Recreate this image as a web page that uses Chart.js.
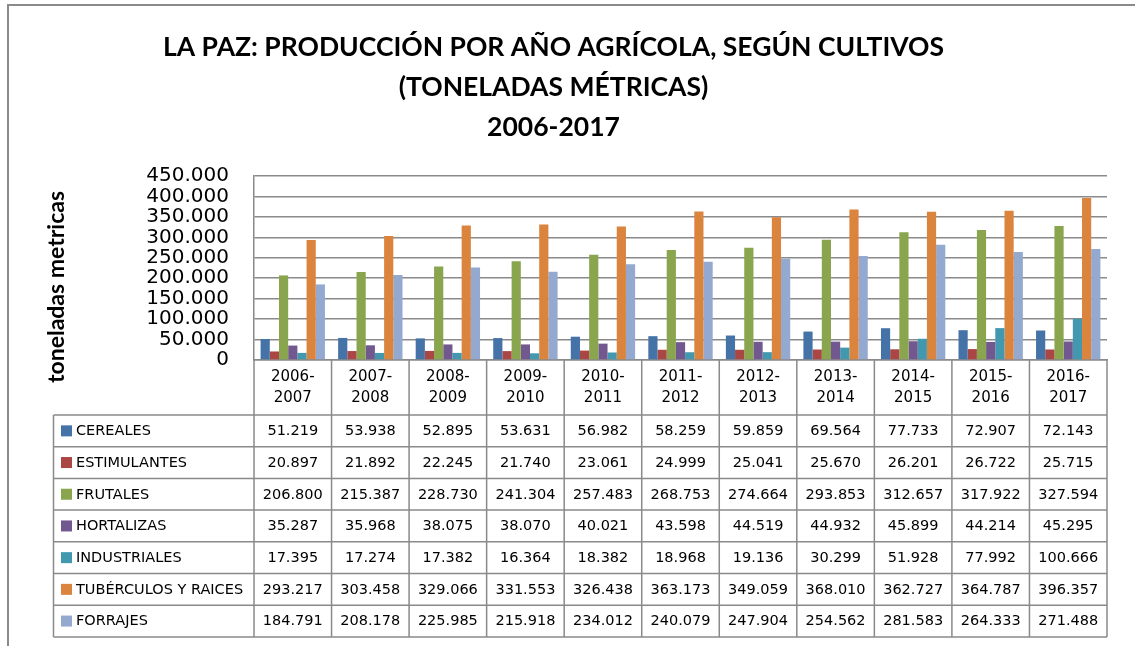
<!DOCTYPE html>
<html>
<head>
<meta charset="utf-8">
<script src="https://cdn.jsdelivr.net/npm/chart.js@4.4.1/dist/chart.umd.min.js"></script>
<style>
  html, body { margin: 0; padding: 0; background: #fff; }
  canvas { display: block; }
</style>
</head>
<body>
<canvas id="cultivosChart" width="1135" height="646"></canvas>
<script>
const years = ['2006-2007', '2007-2008', '2008-2009', '2009-2010', '2010-2011', '2011-2012',
               '2012-2013', '2013-2014', '2014-2015', '2015-2016', '2016-2017'];

const cereales     = [51219, 53938, 52895, 53631, 56982, 58259, 59859, 69564, 77733, 72907, 72143];
const estimulantes = [20897, 21892, 22245, 21740, 23061, 24999, 25041, 25670, 26201, 26722, 25715];
const frutales     = [206800, 215387, 228730, 241304, 257483, 268753, 274664, 293853, 312657, 317922, 327594];
const hortalizas   = [35287, 35968, 38075, 38070, 40021, 43598, 44519, 44932, 45899, 44214, 45295];
const industriales = [17395, 17274, 17382, 16364, 18382, 18968, 19136, 30299, 51928, 77992, 100666];
const tuberculos   = [293217, 303458, 329066, 331553, 326438, 363173, 349059, 368010, 362727, 364787, 396357];
const forrajes     = [184791, 208178, 225985, 215918, 234012, 240079, 247904, 254562, 281583, 264333, 271488];

const seriesNames = ['CEREALES', 'ESTIMULANTES', 'FRUTALES', 'HORTALIZAS', 'INDUSTRIALES',
                     'TUBÉRCULOS Y RAICES', 'FORRAJES'];
const seriesValues = [cereales, estimulantes, frutales, hortalizas, industriales, tuberculos, forrajes];
const seriesColors = ['#4572A7', '#AA4643', '#89A54E', '#71588F', '#4198AF', '#DB843D', '#93A9CF'];

const yMax = 450000;
const yStep = 50000;

const titleLines = ['LA PAZ: PRODUCCIÓN POR AÑO AGRÍCOLA, SEGÚN CULTIVOS', '(TONELADAS MÉTRICAS)', '2006-2017'];
const yTitle = 'toneladas metricas';

const LINE = '#8a8a8a';

// 51219 -> "51.219"
function fmt(v) {
    return String(v).replace(/\B(?=(\d{3})+(?!\d))/g, '.');
}

// draws the frame, the data table under the axis and the rotated y title
const tablePlugin = {
    id: 'dataTable',
    afterDraw(chart) {
        const ctx = chart.ctx;
        const area = chart.chartArea;
        const x = chart.scales.x;
        const n = years.length;
        const colW = (x.right - x.left) / n;
        const headBottom = area.bottom + 55;
        const rowH = 31.7;
        const legendLeft = 53.5;
        const tableBottom = headBottom + rowH * seriesNames.length;

        ctx.save();
        ctx.strokeStyle = LINE;

        // outer frame of the picture
        ctx.lineWidth = 2;
        ctx.beginPath();
        ctx.moveTo(8, 646);
        ctx.lineTo(8, 5);
        ctx.lineTo(1135, 5);
        ctx.stroke();

        ctx.lineWidth = 1.5;
        ctx.beginPath();
        for (let i = 0; i <= n; i++) {
            const px = x.left + i * colW;
            ctx.moveTo(px, area.bottom);
            ctx.lineTo(px, tableBottom);
        }
        for (let r = 0; r <= seriesNames.length; r++) {
            const py = headBottom + r * rowH;
            ctx.moveTo(legendLeft, py);
            ctx.lineTo(x.right, py);
        }
        ctx.moveTo(legendLeft, headBottom);
        ctx.lineTo(legendLeft, tableBottom);
        ctx.stroke();

        ctx.textBaseline = 'middle';
        ctx.font = '14.5px "DejaVu Sans"';
        ctx.fillStyle = '#000';
        seriesNames.forEach((name, r) => {
            const cy = headBottom + r * rowH + rowH / 2;
            ctx.fillStyle = seriesColors[r];
            ctx.fillRect(61, cy - 5.5, 11, 11);
            ctx.fillStyle = '#000';
            ctx.textAlign = 'left';
            ctx.fillText(name, 76, cy + 0.5);
            ctx.textAlign = 'center';
            seriesValues[r].forEach((v, i) => {
                ctx.fillText(fmt(v), x.getPixelForValue(i), cy + 0.5);
            });
        });

        // y axis title
        ctx.translate(57, 287);
        ctx.rotate(-Math.PI / 2);
        ctx.font = 'bold 23px Lato';
        ctx.textAlign = 'center';
        ctx.fillText(yTitle, 0, 0);
        ctx.restore();
    }
};

new Chart(document.getElementById('cultivosChart'), {
    type: 'bar',
    data: {
        labels: years,
        datasets: seriesNames.map((name, k) => ({
            label: name,
            data: seriesValues[k],
            backgroundColor: seriesColors[k],
            borderWidth: 0,
            categoryPercentage: 0.83,
            barPercentage: 1.0
        }))
    },
    options: {
        responsive: false,
        animation: false,
        layout: { padding: { left: 0, right: 28, top: 0, bottom: 0 } },
        plugins: {
            legend: { display: false },
            tooltip: { enabled: false },
            title: {
                display: true,
                text: titleLines,
                color: '#000',
                font: { family: 'Lato', size: 26.5, weight: 'bold', lineHeight: '40px' },
                padding: { top: 27, bottom: 29 }
            }
        },
        scales: {
            x: {
                grid: { display: false, drawTicks: false },
                border: { display: true, color: LINE, width: 1.5 },
                ticks: {
                    color: '#000',
                    font: { family: 'DejaVu Sans', size: 15, lineHeight: '21px' },
                    padding: 6.5,
                    maxRotation: 0,
                    autoSkip: false,
                    callback: function (value) {
                        const s = years[value];
                        return [s.slice(0, 5), s.slice(5)];
                    }
                },
                afterFit: s => { s.height = 286; }
            },
            y: {
                min: 0,
                max: yMax,
                grid: { color: LINE, lineWidth: 1.5, drawTicks: false },
                border: { display: true, color: LINE, width: 1.5 },
                ticks: {
                    stepSize: yStep,
                    autoSkip: false,
                    color: '#000',
                    padding: 25,
                    font: { family: 'DejaVu Sans', size: 20 },
                    callback: v => fmt(v)
                },
                afterFit: s => { s.width = 254; }
            }
        }
    },
    plugins: [tablePlugin]
});
</script>
</body>
</html>
